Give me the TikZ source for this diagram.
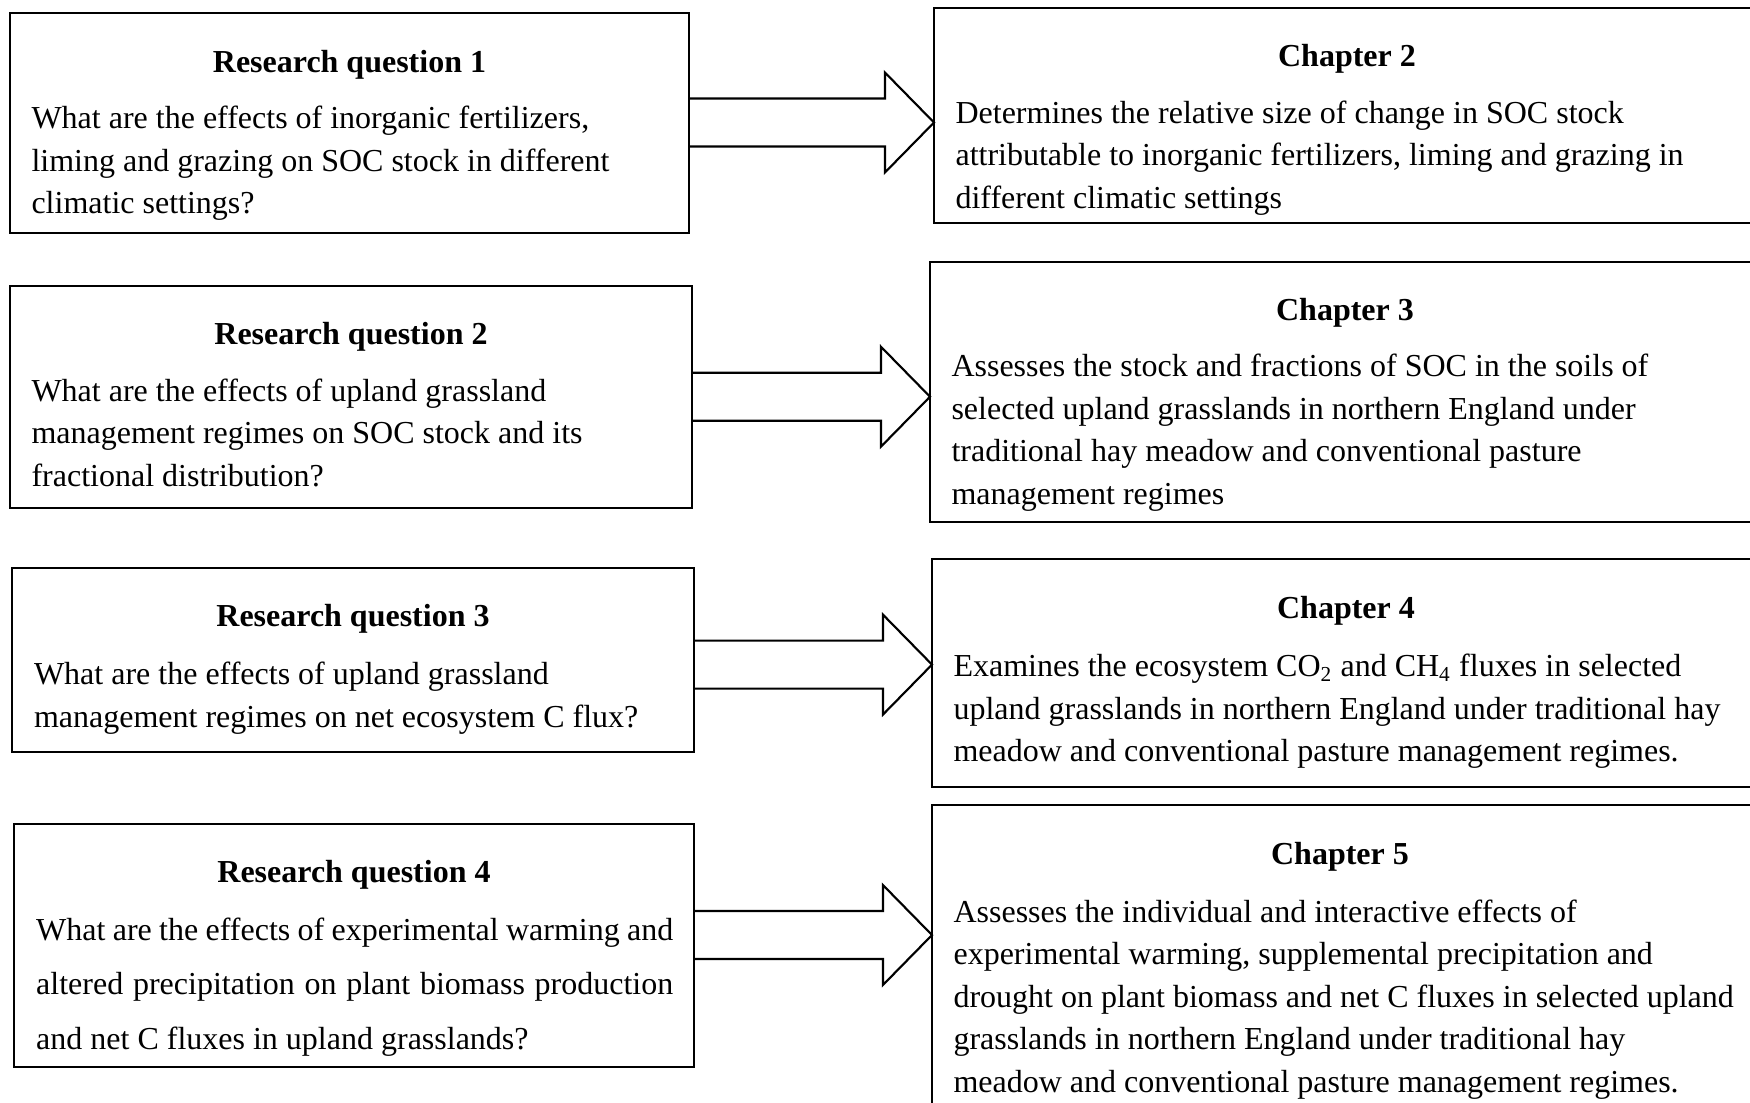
\documentclass[tikz,border=0pt]{standalone}
\usepackage{fontspec}
\setmainfont{Liberation Serif}
\usetikzlibrary{calc}
\tikzset{
  box/.style={draw, line width=0.8pt, inner sep=0pt, outer sep=0pt},
  ttl/.style={anchor=base, inner sep=0pt, font=\fontsize{12pt}{14pt}\selectfont\bfseries},
  body/.style={anchor=base west, inner sep=0pt},
  blockarrow/.style={draw, line width=0.8pt, line join=miter},
}
\newcommand\bodytxt[2][15.94pt]{\parbox[t]{330pt}{\fontsize{12pt}{#1}\selectfont\raggedright #2}}
\newcommand\fullline[1]{\leavevmode\hbox to 238.9pt{#1}}
\newcommand\blockarr[3]{%
  \draw[blockarrow] let \p1=(#1.east), \p2=(#2.west), \p3=(#3) in
    (\x1,\y3+9pt) -- (\x2-18.4pt,\y3+9pt) -- (\x2-18.4pt,\y3+18.75pt) -- (\x2,\y3)
    -- (\x2-18.4pt,\y3-18.75pt) -- (\x2-18.4pt,\y3-9pt) -- (\x1,\y3-9pt);}
\begin{document}
\begin{tikzpicture}[x=0.375pt,y=-0.375pt]
\useasboundingbox (0,0) rectangle (1750,1102);
\clip (0,0) rectangle (1750,1102);

% boxes
\node[box, minimum width=254.6pt, minimum height=82.5pt] (rq1) at (349.5,123) {};
\node[box, minimum width=309.75pt, minimum height=80.6pt] (ch2) at (1347,115.5) {};
\node[box, minimum width=255.75pt, minimum height=83.25pt] (rq2) at (351,397) {};
\node[box, minimum width=311.25pt, minimum height=97.5pt] (ch3) at (1345,392) {};
\node[box, minimum width=255.75pt, minimum height=69pt] (rq3) at (353,660) {};
\node[box, minimum width=310.5pt, minimum height=85.5pt] (ch4) at (1346,673) {};
\node[box, minimum width=255pt, minimum height=91.1pt] (rq4) at (354,945.5) {};
\node[box, minimum width=310.5pt, minimum height=125.6pt] (ch5) at (1346,972.5) {};

% titles
\node[ttl] (rq1t) at (349.5,72.5) {Research question 1};
\node[ttl] (ch2t) at (1347,66) {Chapter 2};
\node[ttl] (rq2t) at (351,344) {Research question 2};
\node[ttl] (ch3t) at (1345,320.5) {Chapter 3};
\node[ttl] (rq3t) at (353,626.5) {Research question 3};
\node[ttl] (ch4t) at (1346,618.5) {Chapter 4};
\node[ttl] (rq4t) at (354,882) {Research question 4};
\node[ttl] (ch5t) at (1340,864) {Chapter 5};

% body texts
\node[body] (rq1b) at (31,128.5) {\bodytxt{What are the effects of inorganic fertilizers,\\
liming and grazing on SOC stock in different\\
climatic settings?}};
\node[body] (ch2b) at (955,123) {\bodytxt{Determines the relative size of change in SOC stock\\
attributable to inorganic fertilizers, liming and grazing in\\
different climatic settings}};
\node[body] (rq2b) at (31,401) {\bodytxt{What are the effects of upland grassland\\
management regimes on SOC stock and its\\
fractional distribution?}};
\node[body] (ch3b) at (951,376.5) {\bodytxt{Assesses the stock and fractions of SOC in the soils of\\
selected upland grasslands in northern England under\\
traditional hay meadow and conventional pasture\\
management regimes}};
\node[body] (rq3b) at (33.5,684.5) {\bodytxt{What are the effects of upland grassland\\
management regimes on net ecosystem C flux?}};
\node[body] (ch4b) at (953,676.5) {\bodytxt{Examines the ecosystem CO\textsubscript{2} and CH\textsubscript{4} fluxes in selected\\
upland grasslands in northern England under traditional hay\\
meadow and conventional pasture management regimes.}};
\node[body] (rq4b) at (35.7,940) {\bodytxt[20.5pt]{\fullline{What are the effects of experimental warming and}\\
\fullline{altered precipitation on plant biomass production}\\
and net C fluxes in upland grasslands?}};
\node[body] (ch5b) at (953,922) {\bodytxt{Assesses the individual and interactive effects of\\
experimental warming, supplemental precipitation and\\
drought on plant biomass and net C fluxes in selected upland\\
grasslands in northern England under traditional hay\\
meadow and conventional pasture management regimes.}};

% arrows
\coordinate (y1) at (0,122.5);
\coordinate (y2) at (0,396.7);
\coordinate (y3) at (0,664.6);
\coordinate (y4) at (0,935);
\blockarr{rq1}{ch2}{y1}
\blockarr{rq2}{ch3}{y2}
\blockarr{rq3}{ch4}{y3}
\blockarr{rq4}{ch5}{y4}
\end{tikzpicture}
\end{document}
